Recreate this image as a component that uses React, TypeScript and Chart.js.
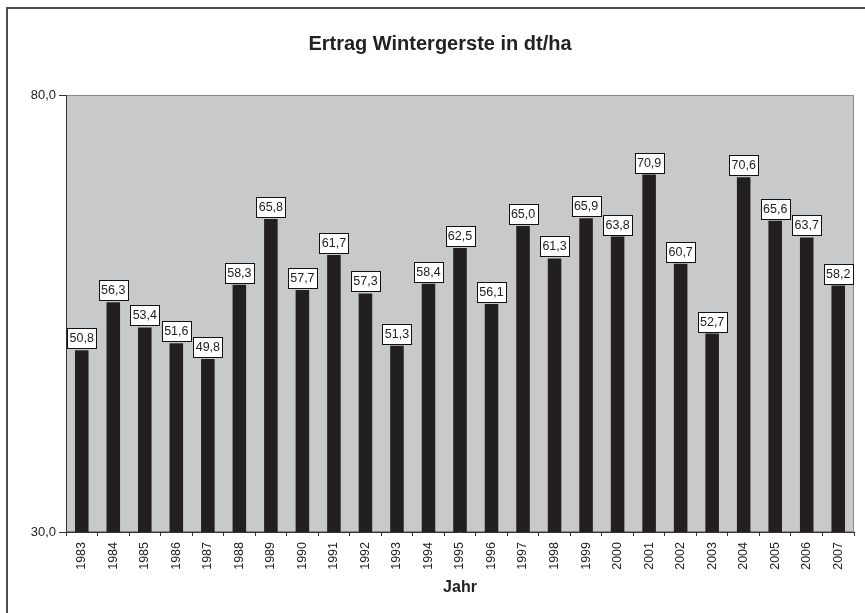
import React, { useEffect, useRef } from "react";
import { Chart, registerables } from "chart.js";

Chart.register(...registerables);

const years = ["1983","1984","1985","1986","1987","1988","1989","1990","1991","1992","1993","1994","1995","1996","1997","1998","1999","2000","2001","2002","2003","2004","2005","2006","2007"];
const yields = [50.8,56.3,53.4,51.6,49.8,58.3,65.8,57.7,61.7,57.3,51.3,58.4,62.5,56.1,65.0,61.3,65.9,63.8,70.9,60.7,52.7,70.6,65.6,63.7,58.2];
const titleText = "Ertrag Wintergerste in dt/ha";
const xTitle = "Jahr";
const yMin = 30;
const yMax = 80;

const FONT = "'Liberation Sans', Arial, sans-serif";
const fmt = (v: number) => v.toFixed(1).replace(".", ",");

const framePlugin = {
  id: "frame",
  beforeDraw(chart: any) {
    const { ctx, chartArea } = chart;
    ctx.save();
    ctx.fillStyle = "#ffffff";
    ctx.fillRect(0, 0, chart.width, chart.height);
    // outer border
    ctx.strokeStyle = "#4d4d4d";
    ctx.lineWidth = 2;
    ctx.strokeRect(7, 8, chart.width + 20, chart.height + 20);
    // plot area
    ctx.fillStyle = "#c8c9cb";
    ctx.fillRect(chartArea.left, chartArea.top, chartArea.right - chartArea.left, chartArea.bottom - chartArea.top);
    ctx.strokeStyle = "#8a8a8a";
    ctx.lineWidth = 1;
    ctx.strokeRect(chartArea.left + 0.5, chartArea.top + 0.5, chartArea.right - chartArea.left - 1, chartArea.bottom - chartArea.top - 1);
    // title
    ctx.fillStyle = "#222222";
    ctx.font = `bold 20px ${FONT}`;
    ctx.textAlign = "center";
    ctx.textBaseline = "alphabetic";
    ctx.fillText(titleText, 440, 50);
    ctx.restore();
  },
};

const labelPlugin = {
  id: "valueLabels",
  afterDatasetsDraw(chart: any) {
    const { ctx } = chart;
    const meta = chart.getDatasetMeta(0);
    const data = chart.data.datasets[0].data as number[];
    ctx.save();
    ctx.font = `12.5px ${FONT}`;
    ctx.textAlign = "center";
    ctx.textBaseline = "middle";
    meta.data.forEach((bar: any, i: number) => {
      const text = fmt(data[i]);
      const w = Math.round(ctx.measureText(text).width) + 5;
      const h = 20;
      const x = Math.round(bar.x - w / 2) + 0.5;
      const y = Math.round(bar.y - 2 - h) + 0.5;
      ctx.fillStyle = "#ffffff";
      ctx.fillRect(x, y, w, h);
      ctx.strokeStyle = "#111111";
      ctx.lineWidth = 1;
      ctx.strokeRect(x, y, w, h);
      ctx.fillStyle = "#222222";
      ctx.fillText(text, bar.x, y + h / 2 + 0.5);
    });
    ctx.restore();
  },
};

export default function App() {
  const ref = useRef<HTMLCanvasElement | null>(null);
  useEffect(() => {
    document.body.style.margin = "0";
    const canvas = ref.current!;
    const chart = new Chart(canvas, {
      type: "bar",
      data: {
        labels: years,
        datasets: [
          {
            data: yields,
            backgroundColor: "#231f20",
            borderWidth: 0,
            barPercentage: 0.43,
            categoryPercentage: 1,
          },
        ],
      },
      options: {
        animation: false,
        responsive: false,
        devicePixelRatio: 1,
        layout: { padding: { left: 0, right: 11, top: 95, bottom: 12 } },
        plugins: {
          legend: { display: false },
          title: { display: false },
          tooltip: { enabled: false },
        },
        scales: {
          x: {
            grid: {
              drawOnChartArea: false,
              drawTicks: true,
              tickLength: 4,
              color: "#333333",
              offset: true,
            },
            border: { display: true, color: "#333333", width: 1 },
            ticks: {
              minRotation: 90,
              maxRotation: 90,
              padding: 6,
              color: "#222222",
              font: { family: FONT, size: 12.5 },
            },
            title: {
              display: true,
              text: xTitle,
              color: "#222222",
              font: { family: FONT, size: 16, weight: "bold" },
              padding: { top: 4, bottom: 4 },
            },
            afterFit(scale: any) {
              scale.height = 69;
            },
          },
          y: {
            min: yMin,
            max: yMax,
            grid: {
              drawOnChartArea: false,
              drawTicks: true,
              tickLength: 7,
              color: "#333333",
            },
            border: { display: true, color: "#333333", width: 1 },
            ticks: {
              stepSize: 50,
              padding: 3,
              color: "#222222",
              font: { family: FONT, size: 13 },
              callback: (v: any) => fmt(Number(v)),
            },
            afterFit(scale: any) {
              scale.width = 66;
            },
          },
        },
      },
      plugins: [framePlugin, labelPlugin],
    });
    return () => chart.destroy();
  }, []);
  return (
    <div style={{ position: "absolute", left: 0, top: 0, width: 865, height: 613 }}>
      <canvas ref={ref} width={865} height={613} style={{ display: "block" }} />
    </div>
  );
}
